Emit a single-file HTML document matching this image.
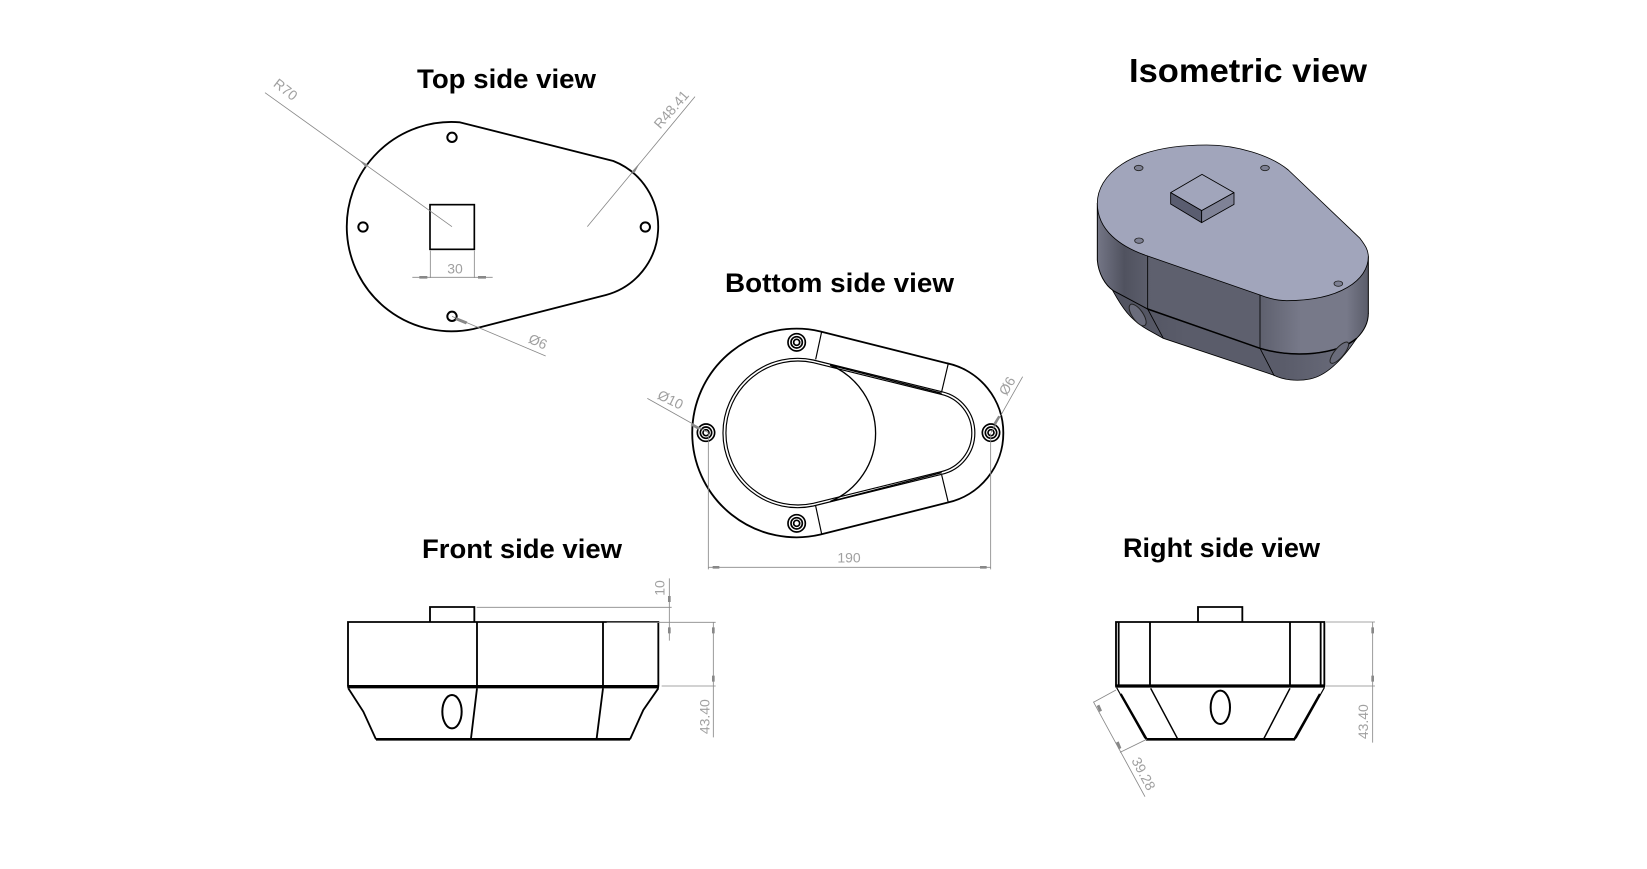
<!DOCTYPE html>
<html>
<head>
<meta charset="utf-8">
<style>
html,body{margin:0;padding:0;background:#fff;width:1647px;height:869px;overflow:hidden}
svg{display:block}
.t{font-family:"Liberation Sans",sans-serif;font-weight:bold;fill:#000}
.d{font-family:"Liberation Sans",sans-serif;fill:#a0a0a0;font-size:42px;text-anchor:middle}
.k{fill:none;stroke:#000;stroke-width:3.5}
.g{fill:none;stroke:#888;stroke-width:2.5}
.a{fill:#888}
</style>
</head>
<body>
<svg width="1647" height="869" viewBox="0 0 1647 869" xmlns="http://www.w3.org/2000/svg">
<defs>
<linearGradient id="s" gradientUnits="userSpaceOnUse" x1="52" y1="0" x2="865" y2="0">
<stop offset="0" stop-color="#747686"/>
<stop offset=".1" stop-color="#50525f"/>
<stop offset=".2" stop-color="#5e606e"/>
<stop offset=".6" stop-color="#5e606e"/>
<stop offset=".75" stop-color="#777989"/>
<stop offset=".92" stop-color="#777989"/>
<stop offset="1" stop-color="#5a5c69"/>
</linearGradient>
<linearGradient id="l" gradientUnits="userSpaceOnUse" x1="100" y1="0" x2="830" y2="0">
<stop offset="0" stop-color="#50525f"/>
<stop offset=".3" stop-color="#5a5c6a"/>
<stop offset=".7" stop-color="#5a5c6a"/>
<stop offset="1" stop-color="#6c6e7d"/>
</linearGradient>
</defs>
<rect width="1647" height="869" fill="#fff"/>

<text class="t" x="417" y="88" font-size="27" textLength="179" lengthAdjust="spacingAndGlyphs">Top side view</text>
<text class="t" x="725" y="292" font-size="27" textLength="229" lengthAdjust="spacingAndGlyphs">Bottom side view</text>
<text class="t" x="1129" y="82" font-size="33" textLength="238" lengthAdjust="spacingAndGlyphs">Isometric view</text>
<text class="t" x="422" y="558" font-size="27" textLength="200" lengthAdjust="spacingAndGlyphs">Front side view</text>
<text class="t" x="1123" y="557" font-size="27" textLength="197" lengthAdjust="spacingAndGlyphs">Right side view</text>

<!-- Top view -->
<g transform="translate(240 40) scale(.33333)">
<path class="k" style="stroke-width:5.5" d="M660,247 L1120,363 A212 212 0 0 1 1098,765 L700,867 A314 314 0 1 1 660,247 Z"/>
<rect x="570" y="494" width="133" height="134" class="k" style="stroke-width:5"/>
<circle cx="636" cy="292" r="14" class="k" style="stroke-width:6"/>
<circle cx="369" cy="561" r="14" class="k" style="stroke-width:6"/>
<circle cx="1216" cy="561" r="14" class="k" style="stroke-width:6"/>
<circle cx="636" cy="829" r="14" class="k" style="stroke-width:6"/>
<path class="g" d="M75,158 L636,560 M1365,170 L1042,560 M571,632 V714 M703,632 V714 M517,712 H758 M636,829 L917,948"/>
<path class="a" d="M355,358 L385,375 L378,382 Z M1200,368 L1175,395 L1183,400 Z M538,708 H562 V716 H538 Z M714,708 H738 V716 H714 Z M650,832 L682,845 L678,853 L646,840 Z"/>
<text class="d" transform="translate(128 160) rotate(38)">R70</text>
<text class="d" transform="translate(1305 218) rotate(-49)">R48.41</text>
<text class="d" x="645" y="700">30</text>
<text class="d" transform="translate(888 918) rotate(24)">Ø6</text>
</g>

<!-- Bottom view -->
<g transform="translate(640 260) scale(.33333)">
<path class="k" style="stroke-width:5.5" d="M540,214 L922,310 A214 214 0 0 1 922,728 L540,824 A313 313 0 1 1 540,214 Z"/>
<path class="k" d="M520,300 L905,395 A127 127 0 0 1 905,643 L520,738 A224 224 0 1 1 520,300 Z"/>
<path class="k" d="M520,308 L903,403 A119 119 0 0 1 903,635 L520,730 A216 216 0 1 1 520,308 Z"/>
<path class="k" style="stroke-width:4" d="M570,315 A222 222 0 0 1 570,725 M570,315 L905,400 M570,725 L905,638"/>
<path class="k" d="M545,215 L527,298 M925,310 L905,395 M527,738 L545,822 M905,645 L925,728"/>
<g class="k" style="stroke-width:5">
<circle cx="470" cy="247" r="26"/><circle cx="470" cy="247" r="17"/><circle cx="470" cy="247" r="9"/>
<circle cx="470" cy="790" r="26"/><circle cx="470" cy="790" r="17"/><circle cx="470" cy="790" r="9"/>
<circle cx="198" cy="518" r="26"/><circle cx="198" cy="518" r="17"/><circle cx="198" cy="518" r="9"/>
<circle cx="1053" cy="518" r="26"/><circle cx="1053" cy="518" r="17"/><circle cx="1053" cy="518" r="9"/>
</g>
<path class="g" d="M205,520 V928 M1052,520 V928 M205,922 H1052 M22,415 L205,518 M1148,350 L1053,518"/>
<path class="a" d="M218,918 H238 V926 H218 Z M1020,918 H1040 V926 H1020 Z M155,490 L180,504 L176,510 L152,496 Z M1080,470 L1066,495 L1060,491 L1075,467 Z"/>
<text class="d" x="627" y="908">190</text>
<text class="d" transform="translate(85 432) rotate(26)">Ø10</text>
<text class="d" transform="translate(1114 385) rotate(-60)">Ø6</text>
</g>

<!-- Isometric -->
<g transform="translate(1080 30) scale(.33333)" stroke-linejoin="round">
<path fill="url(#l)" stroke="#000" stroke-width="2.5" d="M80,745 L100,785 C125,830 150,870 205,900 L250,925 L580,1035 C610,1050 650,1055 690,1047 C750,1035 800,970 830,925 L865,850 L540,930 L100,770 Z"/>
<path fill="url(#s)" stroke="#000" stroke-width="3" d="M52,520 L52,690 C55,730 75,765 100,782 L203,837 L540,955 C640,985 770,975 830,925 C850,905 865,880 865,850 L865,680 L540,795 Z"/>
<path fill="none" stroke="#000" stroke-width="4.5" d="M203,837 L540,955 C640,985 770,975 830,925"/>
<path fill="#a1a5bb" stroke="#000" stroke-width="2.5" d="M52,520 C52,440 140,345 380,345 C470,345 570,375 625,420 L840,625 C855,645 865,660 865,680 C865,750 780,812 620,812 C590,812 560,803 540,795 L203,678 C120,650 52,600 52,520 Z"/>
<path fill="none" stroke="#000" stroke-width="2.5" d="M203,678 V837 M540,795 V955 M203,837 L250,925 M540,955 L583,1038"/>
<g fill="#7d8093" stroke="#222" stroke-width="2.5">
<ellipse cx="176" cy="414" rx="13" ry="8"/>
<ellipse cx="555" cy="414" rx="13" ry="8"/>
<ellipse cx="177" cy="632" rx="13" ry="8"/>
<ellipse cx="775" cy="761" rx="13" ry="8"/>
</g>
<path fill="#a1a5bb" stroke="#000" stroke-width="2.5" d="M366,433 L462,488 L365,542 L272,488 Z"/>
<path fill="#5a5d70" stroke="#000" stroke-width="2.5" d="M272,488 L365,542 L365,578 L272,522 Z"/>
<path fill="#7f8296" stroke="#000" stroke-width="2.5" d="M365,542 L462,488 L462,523 L365,578 Z"/>
<g fill="#6a6c7b" stroke="#222" stroke-width="3">
<ellipse cx="173" cy="855" rx="16" ry="38" transform="rotate(-35 173 855)"/>
<ellipse cx="778" cy="968" rx="14" ry="40" transform="rotate(40 778 968)"/>
</g>
</g>

<!-- Front view -->
<g transform="translate(330 520) scale(.33333)">
<path class="k" style="stroke-width:5.5" d="M300,306 V261 H433 V306"/>
<path class="k" style="stroke-width:5.5" d="M54,500 V306 H985 V500 M441,306 V500 M819,306 V500"/>
<path class="k" style="stroke-width:10" d="M52,500 H987"/>
<path class="k" style="stroke-width:5.5" d="M55,505 L100,575 L138,658 M985,505 L940,570 L900,658 M441,505 L423,655 M819,505 L800,655"/>
<path class="k" style="stroke-width:8" d="M138,658 H900"/>
<ellipse cx="366" cy="575" rx="29" ry="50" class="k" style="stroke-width:6"/>
<path class="g" d="M440,262 H1025 M1018,175 V362 M830,307 H1157 M995,498 H1157 M1150,307 V652"/>
<path class="a" d="M1014,228 H1022 V246 H1014 Z M1014,322 H1022 V340 H1014 Z M1146,322 H1154 V340 H1146 Z M1146,467 H1154 V485 H1146 Z"/>
<text class="d" transform="translate(1004 204) rotate(-90)">10</text>
<text class="d" transform="translate(1139 590) rotate(-90)">43.40</text>
</g>

<!-- Right view -->
<g transform="translate(1080 520) scale(.33333)">
<path class="k" style="stroke-width:5.5" d="M354,306 V261 H487 V306"/>
<path class="k" style="stroke-width:5.5" d="M108,500 V306 H733 V500 M116,306 V500 M210,306 V500 M630,306 V500 M722,306 V500"/>
<path class="k" style="stroke-width:10" d="M106,498 H735"/>
<path class="k" style="stroke-width:7" d="M122,522 L200,658 M720,522 L643,658"/>
<path class="k" style="stroke-width:3.5" d="M110,503 L195,655 M733,503 L648,655"/>
<path class="k" style="stroke-width:4.5" d="M212,505 L292,655 M630,505 L552,655"/>
<path class="k" style="stroke-width:8" d="M198,658 H645"/>
<ellipse cx="421" cy="562" rx="29" ry="50" class="k" style="stroke-width:6"/>
<path class="g" d="M738,306 H885 M738,498 H885 M878,306 V668 M108,510 L40,547 M200,658 L120,697 M40,545 L195,830"/>
<path class="a" d="M874,322 H882 V340 H874 Z M874,467 H882 V485 H874 Z M50,558 L58,554 L66,572 L58,576 Z M108,668 L116,664 L124,684 L116,688 Z"/>
<text class="d" transform="translate(864 605) rotate(-90)">43.40</text>
<text class="d" transform="translate(178 768) rotate(62)">39.28</text>
</g>
</svg>
</body>
</html>
